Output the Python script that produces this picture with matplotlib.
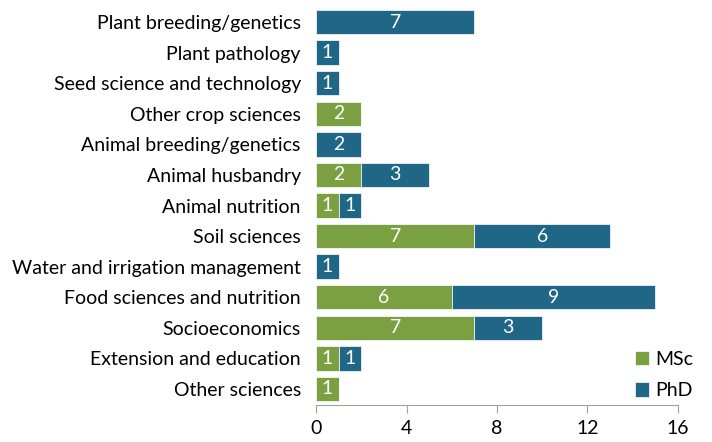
import numpy as np
import matplotlib.pyplot as plt

plt.rcParams['font.family'] = ['Lato', 'DejaVu Sans']

# 資料
categories = ['Plant breeding/genetics', 'Plant pathology', 'Seed science and technology',
              'Other crop sciences', 'Animal breeding/genetics', 'Animal husbandry',
              'Animal nutrition', 'Soil sciences', 'Water and irrigation management',
              'Food sciences and nutrition', 'Socioeconomics', 'Extension and education',
              'Other sciences']
msc = [0, 0, 0, 2, 0, 2, 1, 7, 0, 6, 7, 1, 1]
phd = [7, 1, 1, 0, 2, 3, 1, 6, 1, 9, 3, 1, 0]
xticks = [0, 4, 8, 12, 16]

green = '#7BA042'
blue = '#1F6687'
fs = 14

fig = plt.figure(figsize=(7.12, 4.42), dpi=100)
ax = fig.add_axes([0.444, 0.084, 0.508, 0.902])

y = np.arange(len(categories))[::-1]
ax.barh(y, msc, height=0.8, color=green, edgecolor='white', linewidth=0.5, label='MSc')
ax.barh(y, phd, left=msc, height=0.8, color=blue, edgecolor='white', linewidth=0.5, label='PhD')

# 數值標籤
for i in range(len(categories)):
    if msc[i] > 0:
        ax.text(msc[i] / 2, y[i], str(msc[i]), ha='center', va='center', color='white', fontsize=fs)
    if phd[i] > 0:
        ax.text(msc[i] + phd[i] / 2, y[i], str(phd[i]), ha='center', va='center', color='white', fontsize=fs)

ax.set_yticks(y)
ax.set_yticklabels(categories, fontsize=fs)
ax.tick_params(axis='y', length=0, pad=11)
ax.set_xticks(xticks)
ax.set_xticklabels([str(t) for t in xticks], fontsize=fs)
ax.tick_params(axis='x', length=6, color='#A0A0A0', pad=5)
ax.set_xlim(0, 16)
ax.set_ylim(-0.52, 12.52)

for s in ['top', 'right', 'left']:
    ax.spines[s].set_visible(False)
ax.spines['bottom'].set_color('#A0A0A0')

ax.legend(loc='lower right', bbox_to_anchor=(1.075, -0.015), frameon=False, fontsize=fs,
          handlelength=0.75, handleheight=0.75, handletextpad=0.3, labelspacing=0.75,
          borderaxespad=0.2)

plt.savefig('out.png', dpi=100)
